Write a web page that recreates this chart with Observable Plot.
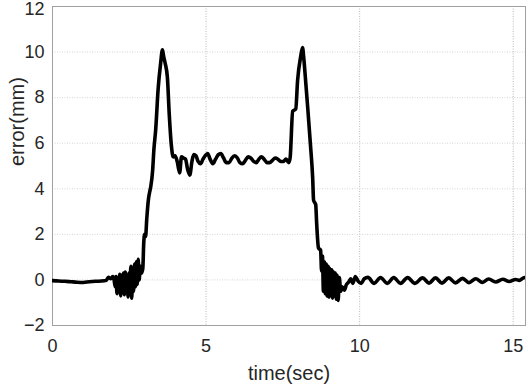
<!DOCTYPE html>
<html>
<head>
<meta charset="utf-8">
<script src="https://cdn.jsdelivr.net/npm/d3@7"></script>
<script src="https://cdn.jsdelivr.net/npm/@observablehq/plot@0.6"></script>
<style>
  html, body { margin: 0; padding: 0; background: #fff; }
  #chart svg { display: block; }
</style>
</head>
<body>
<div id="chart"></div>
<script>
// time (sec) and error (mm)
const time = [
  0, 0.2, 0.4, 0.6, 0.8, 1.0, 1.2, 1.4, 1.6, 1.75, 1.82, 1.9, 1.96,
  2.00, 2.04, 2.07, 2.10, 2.13, 2.16, 2.19, 2.22, 2.25, 2.28, 2.31, 2.34, 2.37, 2.40,
  2.43, 2.46, 2.49, 2.52, 2.55, 2.58, 2.61, 2.64, 2.67, 2.70, 2.73, 2.76, 2.79, 2.82,
  2.86, 2.90, 2.94, 2.97, 3.00, 3.03, 3.07, 3.12, 3.17, 3.20, 3.26, 3.30, 3.36, 3.44,
  3.52, 3.58, 3.62, 3.67, 3.74, 3.80, 3.87, 3.93, 3.99, 4.06, 4.14, 4.20, 4.27, 4.33,
  4.40, 4.47, 4.54, 4.60, 4.67, 4.74, 4.82, 4.90, 4.97, 5.05, 5.13, 5.22, 5.31, 5.40,
  5.48, 5.57, 5.66, 5.75, 5.84, 5.93, 6.02, 6.10, 6.19, 6.28, 6.37, 6.46, 6.55, 6.64,
  6.72, 6.80, 6.89, 6.98, 7.07, 7.16, 7.25, 7.34, 7.43, 7.52, 7.60, 7.66, 7.70,
  7.74, 7.82, 7.92, 7.98, 8.08, 8.14, 8.18, 8.24, 8.31, 8.40, 8.47, 8.50, 8.57, 8.60,
  8.66, 8.73, 8.76, 8.79, 8.82, 8.85, 8.88, 8.91, 8.94, 8.97, 9.00, 9.03, 9.06, 9.09,
  9.12, 9.15, 9.18, 9.21, 9.24, 9.27, 9.30, 9.34, 9.38, 9.43, 9.50, 9.57, 9.64, 9.71,
  9.78, 9.86, 9.95, 10.05, 10.15, 10.27, 10.47, 10.68, 10.90, 11.11, 11.33, 11.56,
  11.80, 12.05, 12.26, 12.47, 12.68, 12.90, 13.12, 13.35, 13.56, 13.78, 14.00, 14.20,
  14.43, 14.66, 14.87, 15.08, 15.20, 15.32, 15.45
];
const error = [
  -0.03, -0.05, -0.06, -0.08, -0.10, -0.11, -0.08, -0.06, -0.05, -0.02, 0.12, 0.05, 0.15,
  0.05, -0.30, 0.15, -0.60, 0.10, -0.40, 0.25, -0.70, 0.20, -0.50, 0.30, -0.65, 0.35, -0.30,
  0.20, -0.75, 0.30, -0.60, 0.60, -0.80, 0.40, -0.50, 0.70, -0.30, 0.80, -0.20, 0.90, 0.00,
  0.60, 0.30, 0.50, 1.60, 2.00, 1.90, 2.70, 3.50, 3.90, 4.10, 4.80, 5.70, 6.60, 8.40,
  9.50, 10.10, 9.80, 9.50, 8.90, 7.30, 5.90, 5.40, 5.45, 5.20, 4.70, 5.40, 5.35, 5.30,
  4.85, 4.60, 5.20, 5.50, 5.45, 5.20, 5.10, 5.30, 5.45, 5.55, 5.30, 5.10, 5.30, 5.50,
  5.55, 5.35, 5.15, 5.15, 5.35, 5.45, 5.35, 5.15, 5.10, 5.25, 5.40, 5.35, 5.20, 5.15,
  5.30, 5.40, 5.30, 5.15, 5.15, 5.25, 5.35, 5.30, 5.20, 5.20, 5.30, 5.20, 5.15,
  5.40, 7.40, 7.50, 8.76, 9.80, 10.20, 9.75, 8.76, 7.55, 5.90, 4.50, 3.50, 3.30, 2.50,
  1.40, 1.30, 0.40, 1.05, -0.50, 0.80, -0.60, 0.70, -0.70, 0.60, -0.75, 0.50, -0.60, 0.45,
  -0.80, 0.35, -0.70, 0.30, -0.85, 0.20, -0.90, 0.10, -0.50, -0.30, -0.45, -0.20, -0.10, 0.05,
  -0.15, 0.15, -0.05, -0.15, 0.05, 0.11, -0.15, 0.10, -0.15, 0.10, -0.15, 0.10,
  -0.15, 0.09, -0.14, 0.09, -0.14, 0.09, -0.13, 0.07, -0.12, 0.05, -0.11, 0.04,
  -0.09, 0.03, -0.07, 0.02, -0.02, 0.08, 0.12
];
const xTicks = [0, 5, 10, 15];
const yTicks = [-2, 0, 2, 4, 6, 8, 10, 12];
const xLabel = "time(sec)";
const yLabel = "error(mm)";

const data = time.map((t, i) => ({t, e: error[i]}));
const font = "'Liberation Sans', Arial, Helvetica, sans-serif";
const textColor = "#262626";

const chart = Plot.plot({
  width: 528,
  height: 386,
  marginLeft: 52,
  marginRight: 3,
  marginTop: 6,
  marginBottom: 61,
  style: {fontFamily: font, background: "#fff"},
  x: {domain: [0, 15.4]},
  y: {domain: [-2, 12]},
  marks: [
    Plot.ruleX(xTicks.filter(d => d > 0), {stroke: "#b8b8b8", strokeDasharray: "1,1.5", strokeWidth: 1}),
    Plot.ruleY(yTicks.filter(d => d > -2 && d < 12), {stroke: "#d4d4d4", strokeDasharray: "1,1.5", strokeWidth: 1}),
    Plot.frame({stroke: "#a0a0a0", strokeWidth: 1}),
    Plot.line(data, {x: "t", y: "e", stroke: "#000", strokeWidth: 3.6, curve: "monotone-x", strokeLinejoin: "round", clip: true}),
    Plot.axisX(xTicks, {tickSize: 0, tickPadding: 14, fontSize: 18, fill: textColor, label: null}),
    Plot.axisY(yTicks.filter(d => d < 12), {tickSize: 0, tickPadding: 8, fontSize: 18, fill: textColor, label: null}),
    Plot.axisY([12], {tickSize: 0, tickPadding: 8, fontSize: 18, fill: textColor, label: null, dy: 3}),
    Plot.text([xLabel], {frameAnchor: "bottom", dy: 54, fontSize: 20, fill: textColor}),
    Plot.text([yLabel], {frameAnchor: "left", dx: -35, rotate: -90, fontSize: 20, fill: textColor})
  ]
});
document.getElementById("chart").appendChild(chart);
</script>
</body>
</html>
